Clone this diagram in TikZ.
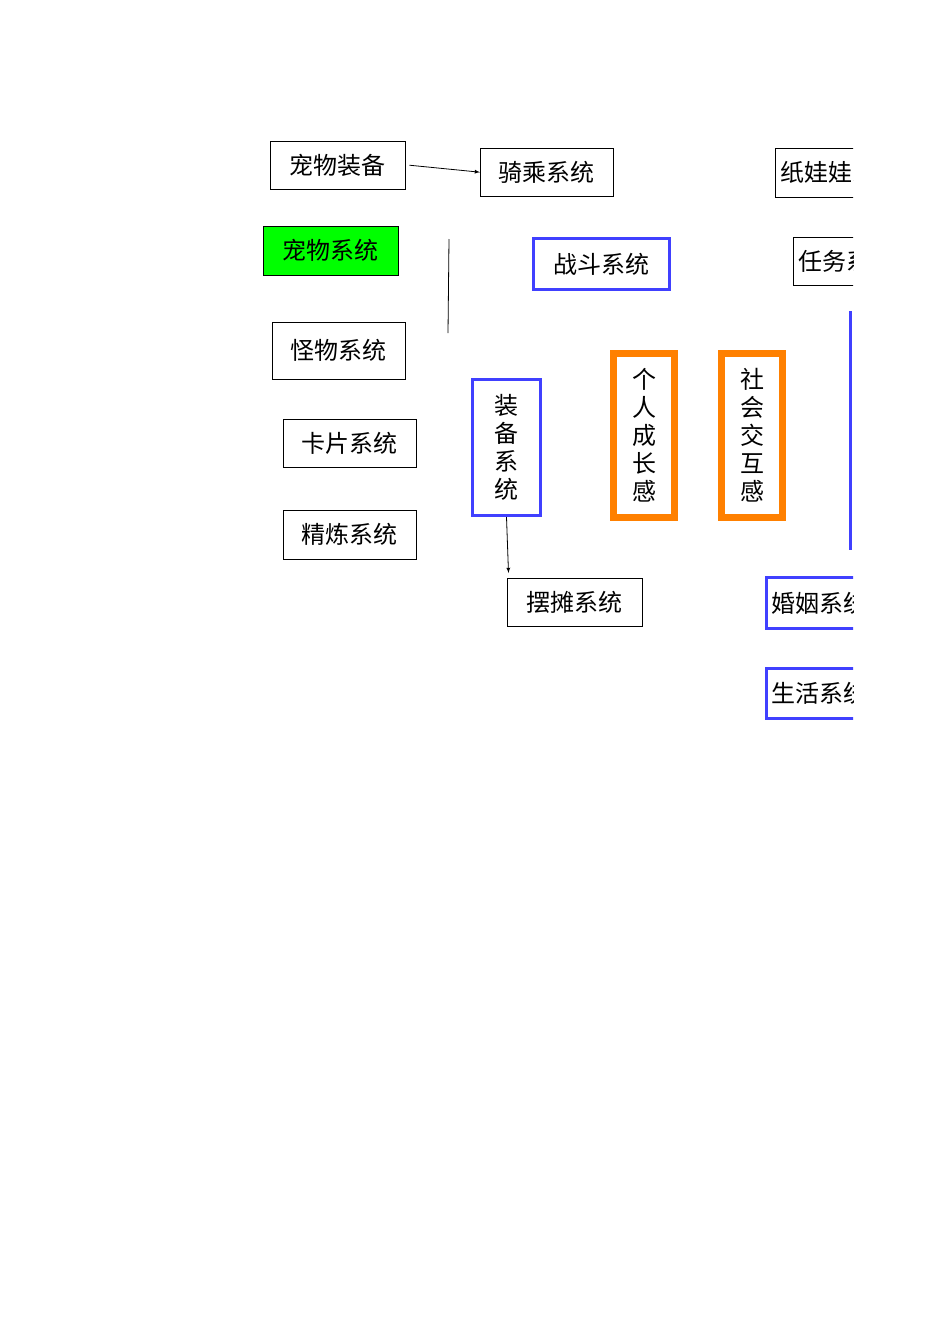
\documentclass[tikz,border=0pt]{standalone}
\usepackage{fontspec}
\newfontfamily\cjk{Noto Sans CJK SC}
\begin{document}
\begin{tikzpicture}[x=1pt, y=-1pt, every node/.style={font=\cjk\fontsize{24}{27}\selectfont},
    plain/.style={rectangle, draw, thin, inner sep=0pt, anchor=north west},
    bluebox/.style={rectangle, draw=blue!75!white, line width=3pt, inner sep=0pt, anchor=north west},
    orangebox/.style={rectangle, draw=orange, line width=7pt, fill=white, inner sep=0pt, anchor=north west}]
    \useasboundingbox (0,0) rectangle (950,1344);
    \begin{scope}
    \clip (0,0) rectangle (853,1344);
    \node[plain, minimum width=135pt, minimum height=48pt] (pet_eq) at (270,141) {宠物装备};
    \node[plain, minimum width=133pt, minimum height=48pt] (ride) at (480,148) {骑乘系统};
    \node[plain, minimum width=135pt, minimum height=49pt, text width=125pt] (doll) at (775,148) {纸娃娃系统};
    \node[plain, fill=green, minimum width=135pt, minimum height=49pt] (pet) at (263,226) {宠物系统};
    \node[bluebox, minimum width=136pt, minimum height=51pt] (fight) at (532,237) {战斗系统};
    \node[plain, minimum width=135pt, minimum height=48pt, text width=125pt] (task) at (793,237) {任务系统};
    \node[plain, minimum width=133pt, minimum height=57pt] (monster) at (272,322) {怪物系统};
    \node[plain, minimum width=133pt, minimum height=48pt] (card) at (283,419) {卡片系统};
    \node[plain, minimum width=133pt, minimum height=49pt] (refine) at (283,510) {精炼系统};
    \node[bluebox, minimum width=68pt, minimum height=136pt, align=center, font=\cjk\fontsize{24}{28}\selectfont] (equip) at (471,378) {装\\备\\系\\统};
    \node[orangebox, minimum width=61pt, minimum height=164pt, align=center, font=\cjk\fontsize{24}{28}\selectfont] (grow) at (610,350) {个\\人\\成\\长\\感};
    \node[orangebox, minimum width=61pt, minimum height=164pt, align=center, font=\cjk\fontsize{24}{28}\selectfont] (social) at (718,350) {社\\会\\交\\互\\感};
    \node[plain, minimum width=135pt, minimum height=48pt] (stall) at (507,578) {摆摊系统};
    \node[bluebox, minimum width=135pt, minimum height=51pt, text width=125pt] (marry) at (765,576) {婚姻系统};
    \node[bluebox, minimum width=135pt, minimum height=50pt, text width=125pt] (life) at (765,667) {生活系统};
    \coordinate (r_top) at (850,311);
    \coordinate (r_bot) at (850,550);
    \draw[blue!75!white, line width=3pt] (r_top) -- (r_bot);
    \end{scope}

    \coordinate (l_top) at (449,239);
    \coordinate (l_bot) at (448,333);
    \draw[thick] (l_top) -- (l_bot);
    \draw[->, thick, >=latex] (pet_eq.east) ++(4,0) -- (ride.west);
    \draw[->, thick, >=latex] (equip.south) -- ++(2,56);
\end{tikzpicture}
\end{document}
